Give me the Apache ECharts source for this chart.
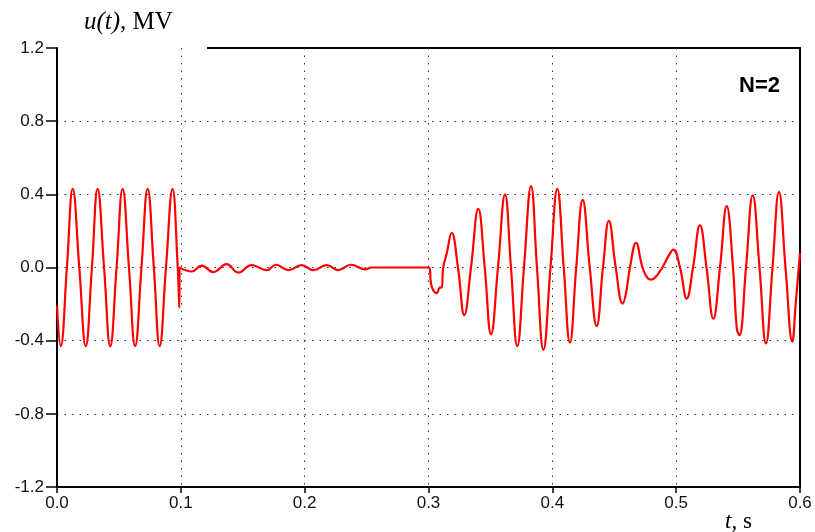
<!DOCTYPE html>
<html>
<head>
<meta charset="utf-8">
<script src="https://cdn.jsdelivr.net/npm/echarts@6/dist/echarts.min.js"></script>
<style>
  html, body { margin: 0; padding: 0; background: #fff; }
  #main { width: 815px; height: 532px; }
</style>
</head>
<body>
<div id="main"></div>
<script>
// t in s, u in MV
var waveBefore = [
  [0.000, -0.21], [0.003, -0.43], [0.008, 0.00], [0.0127, 0.43], [0.018, 0.00],
  [0.0232, -0.43], [0.0282, 0.00], [0.0328, 0.43], [0.0380, 0.00], [0.0430, -0.43],
  [0.0481, 0.00], [0.0530, 0.43], [0.0581, 0.00], [0.0631, -0.43], [0.0682, 0.00],
  [0.0732, 0.43], [0.0782, 0.00], [0.0829, -0.43], [0.0880, 0.00], [0.0933, 0.43],
  [0.0975, 0.00], [0.0988, -0.22], [0.0990, 0.00]
];
var wavePause = [
  [0.1088, -0.022], [0.1168, 0.010], [0.1262, -0.025], [0.1370, 0.018], [0.1464, -0.028],
  [0.1572, 0.013], [0.1693, -0.014], [0.1768, 0.015], [0.1868, -0.014], [0.1976, 0.013],
  [0.2070, -0.014], [0.2178, 0.013], [0.2272, -0.014], [0.2374, 0.015], [0.2487, -0.010],
  [0.2541, 0.000], [0.2998, 0.000]
];
var waveAfter = [
  [0.3026, -0.105], [0.3066, -0.14], [0.3093, -0.11], [0.3106, -0.11], [0.3119, 0.00],
  [0.3147, 0.077], [0.3187, 0.19], [0.3238, 0.00], [0.3289, -0.26], [0.3343, 0.00],
  [0.3402, 0.32], [0.3454, 0.00], [0.3505, -0.365], [0.3561, 0.00], [0.3618, 0.40],
  [0.3666, 0.00], [0.3717, -0.43], [0.3771, 0.00], [0.3828, 0.445], [0.3876, 0.00],
  [0.3928, -0.45], [0.3985, 0.00], [0.4040, 0.43], [0.4092, 0.00], [0.4142, -0.41],
  [0.4193, 0.00], [0.4245, 0.37], [0.4302, 0.00], [0.4358, -0.32], [0.4409, 0.00],
  [0.4457, 0.255], [0.4512, 0.00], [0.4568, -0.197], [0.4595, -0.14], [0.4627, 0.00],
  [0.4676, 0.135], [0.4728, 0.00], [0.4772, -0.06], [0.4802, -0.066], [0.4837, -0.05],
  [0.4869, -0.02], [0.4889, 0.00], [0.4950, 0.077], [0.4977, 0.098], [0.5031, 0.00],
  [0.5085, -0.17], [0.5136, 0.00], [0.5192, 0.23], [0.5245, 0.00], [0.5300, -0.28],
  [0.5354, 0.00], [0.5408, 0.335], [0.5459, 0.00], [0.5489, -0.33], [0.5510, -0.37],
  [0.5564, 0.00], [0.5618, 0.395], [0.5673, 0.00], [0.5725, -0.415], [0.5778, 0.00],
  [0.5830, 0.414], [0.5883, 0.00], [0.5938, -0.406], [0.5965, -0.20], [0.6000, 0.08]
];
var xTicks = [0, 0.6, 0.1];
var yTicks = [-1.2, 1.2, 0.4];

var G = { left: 57, right: 15, top: 48, bottom: 45 };
var W = 815, H = 532;

var gridDots = { color: '#333', width: 1, type: [1.5, 6] };
var serif = 'Liberation Serif';

option = {
  animation: false,
  backgroundColor: '#fff',
  grid: { left: G.left, right: G.right, top: G.top, bottom: G.bottom, containLabel: false, outerBoundsMode: 'none' },
  title: [
    {
      text: '{i|u(t)}{n|, MV}',
      left: 79, top: 5,
      textStyle: {
        rich: {
          i: { fontFamily: serif, fontStyle: 'italic', fontWeight: 'normal', fontSize: 25, color: '#000' },
          n: { fontFamily: serif, fontWeight: 'normal', fontSize: 25, color: '#000' }
        }
      }
    },
    {
      text: '{i|t}{n|, s}',
      left: 720, top: 505,
      textStyle: {
        rich: {
          i: { fontFamily: serif, fontStyle: 'italic', fontWeight: 'normal', fontSize: 23, color: '#000' },
          n: { fontFamily: serif, fontWeight: 'normal', fontSize: 23, color: '#000' }
        }
      }
    },
    {
      text: 'N=2',
      left: 734, top: 70,
      textStyle: { fontFamily: 'Liberation Sans', fontWeight: 'bold', fontSize: 22, color: '#000' }
    }
  ],
  xAxis: {
    type: 'value',
    min: xTicks[0], max: xTicks[1], interval: xTicks[2],
    axisLine: { show: true, onZero: false, lineStyle: { color: '#000', width: 2 } },
    axisTick: { show: true, length: 6, lineStyle: { color: '#000', width: 1.5 } },
    axisLabel: {
      margin: 8, fontFamily: 'Liberation Sans', fontSize: 17, color: '#111',
      formatter: function (v) { return v.toFixed(1); }
    },
    splitLine: { show: true, showMinLine: false, showMaxLine: false, lineStyle: gridDots }
  },
  yAxis: {
    type: 'value',
    min: yTicks[0], max: yTicks[1], interval: yTicks[2],
    axisLine: { show: true, onZero: false, lineStyle: { color: '#000', width: 2 } },
    axisTick: { show: true, length: 11, lineStyle: { color: '#000', width: 1.5 } },
    axisLabel: {
      margin: 13, fontFamily: 'Liberation Sans', fontSize: 17, color: '#111',
      formatter: function (v) { return v.toFixed(1); }
    },
    splitLine: { show: true, showMinLine: false, showMaxLine: false, lineStyle: gridDots }
  },
  graphic: [
    {
      type: 'polyline', silent: true,
      shape: { points: [[207, G.top], [W - G.right, G.top], [W - G.right, H - G.bottom]] },
      style: { stroke: '#000', lineWidth: 2, fill: null }
    }
  ],
  series: [
    {
      type: 'line',
      data: waveBefore.concat(wavePause, waveAfter),
      showSymbol: false,
      smooth: 0.45,
      lineStyle: { color: '#ff0000', width: 2.2 },
      clip: false
    }
  ]
};

var myChart = echarts.init(document.getElementById('main'));
myChart.setOption(option);
</script>
</body>
</html>
